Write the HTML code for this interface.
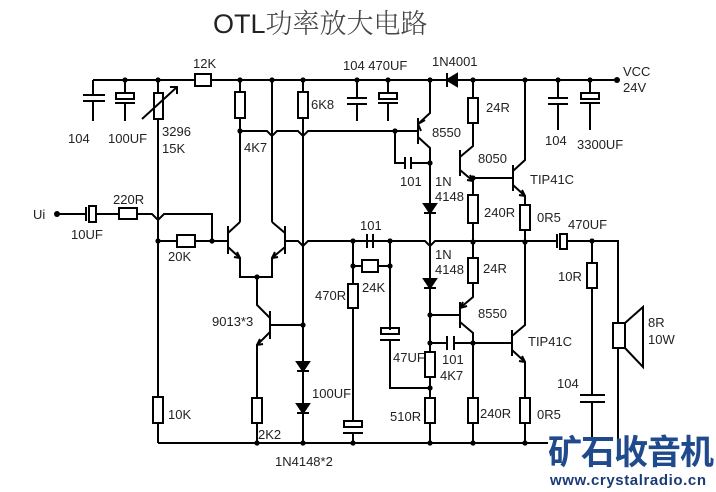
<!DOCTYPE html>
<html><head><meta charset="utf-8"><style>
html,body{margin:0;padding:0;background:#fff;}
svg{display:block;}
text{font-family:"Liberation Sans","Noto Sans CJK SC",sans-serif;fill:#222;}
.l{font-size:13px;}
</style></head><body>
<svg width="716" height="492" viewBox="0 0 716 492" xmlns="http://www.w3.org/2000/svg">
<rect width="716" height="492" fill="#fff"/>
<text x="213" y="33" font-size="27" style="font-family:'Liberation Sans','Noto Sans CJK SC',sans-serif">OTL<tspan style="font-family:'Noto Serif CJK SC','Noto Sans CJK SC',serif" font-weight="300" fill="#444">功率放大电路</tspan></text>
<g stroke="#000" stroke-width="2" fill="none">
<path d="M93 80H195M211 80H447M457 80H617"/>
<rect x="195" y="74" width="16" height="12" fill="#fff"/>
<path d="M447 73V87"/><path d="M447 80L457 74V86Z" fill="#000"/>
<path d="M93 80V95M83 95H105M83 101H105M93 101V121"/>
<path d="M125 80V93M125 103V121M115 103H135"/><rect x="116" y="93" width="18" height="6"/>
<path d="M158 80V443"/><rect x="154" y="93" width="9" height="26" fill="#fff"/>
<path d="M142 119L177 87M170 87H177V94"/>
<path d="M240 80V222"/><rect x="235" y="92" width="10" height="26" fill="#fff"/>
<path d="M303 80V443"/>
<rect x="298" y="92" width="10" height="26" fill="#fff"/>
<path d="M272 80V222"/>
<path d="M240 131H267L272 136L277 131H298L303 136L308 131H418"/>
<path d="M395 131V163H405M405 157V169M411 157V169M411 163H430"/>
<path d="M357 80V98M347 98H367M347 104H367M357 104V121"/>
<path d="M388 80V93M388 103V121M378 103H398"/><rect x="379" y="93" width="18" height="6"/>
<path d="M418 118V144M418 124L430 113V80M418 137L430 148V443"/>
<path d="M418 124L425 120M418 124L421 131"/>
<path d="M424 204H436L430 213Z" fill="#000"/><path d="M424 213H436"/>
<path d="M424 279H436L430 288Z" fill="#000"/><path d="M424 288H436"/>
<path d="M460 150V176M460 157L473 146V80M460 170L473 181V242"/>
<path d="M473 181L467 180M473 181L470 175"/>
<rect x="468" y="98" width="10" height="25" fill="#fff"/>
<rect x="468" y="195" width="10" height="28" fill="#fff"/>
<path d="M473 178H513"/>
<path d="M513 165V191M513 171L525 160V80M513 185L525 196V242"/>
<path d="M525 196L519 195M525 196L522 190"/>
<rect x="520" y="205" width="10" height="25" fill="#fff"/>
<path d="M558 80V98M548 98H568M548 104H568M558 104V130"/>
<path d="M590 80V93M590 103V130M580 103H600"/><rect x="581" y="93" width="18" height="6"/>
<path d="M57 214H86M86 207V221M97 214H119M137 214H152L158 220L164 214H212V241"/>
<rect x="89" y="206" width="7" height="16"/>
<rect x="119" y="208" width="18" height="11" fill="#fff"/>
<path d="M158 241H212H228"/><rect x="177" y="235" width="18" height="12" fill="#fff"/>
<path d="M228 226V254M228 233L240 222M228 247L240 258V277H272V258L285 247M285 226V254M285 233L272 222"/>
<path d="M240 258L234 257M240 258L237 252M272 258L278 257M272 258L275 252"/>
<path d="M285 241H298L303 246L308 241H425L430 246L435 241H557M567 241H618V323"/>
<path d="M557 234V248"/><rect x="560" y="234" width="7" height="15"/>
<path d="M257 277V305L270 318M270 311V339M270 332L257 345V443M270 325H303"/>
<path d="M257 345L263 344M257 345L260 339"/>
<rect x="252" y="398" width="10" height="25" fill="#fff"/>
<rect x="153" y="397" width="10" height="26" fill="#fff"/>
<path d="M297 362H309L303 371Z" fill="#000"/><path d="M297 371H309"/>
<path d="M297 404H309L303 413Z" fill="#000"/><path d="M297 413H309"/>
<path d="M367 234V248M373 234V248"/>
<path d="M353 241V423M353 433V443M343 433H363"/><rect x="344" y="421" width="18" height="6" fill="#fff"/>
<rect x="348" y="284" width="10" height="24" fill="#fff"/>
<path d="M353 266H390M390 241V330M390 340V388H430"/><rect x="362" y="260" width="16" height="12" fill="#fff"/>
<path d="M380 340H400"/><rect x="381" y="328" width="18" height="6"/>
<rect x="425" y="352" width="10" height="25" fill="#fff"/>
<rect x="425" y="398" width="10" height="25" fill="#fff"/>
<path d="M473 242V297L460 308M460 302V328M460 322L473 333V443M430 315H460"/>
<path d="M460 308L467 306M460 308L463 302"/>
<rect x="468" y="258" width="10" height="25" fill="#fff"/>
<rect x="468" y="398" width="10" height="25" fill="#fff"/>
<path d="M430 343H447M447 336V350M454 336V350M454 343H512"/>
<path d="M525 242V325L512 336M512 330V356M512 350L525 362V443"/>
<path d="M525 362L519 361M525 362L522 356"/>
<rect x="520" y="398" width="10" height="25" fill="#fff"/>
<path d="M158 443H548"/>
<path d="M592 241V395M580 395H605M580 402H605M592 402V440"/>
<rect x="587" y="263" width="10" height="25" fill="#fff"/>
<path d="M618 348V440"/><rect x="613" y="323" width="12" height="25" fill="#fff"/>
<path d="M625 323L643 307V367L625 348"/>
</g>
<g fill="#000">
<circle cx="125" cy="80" r="2.6"/><circle cx="158" cy="80" r="2.6"/><circle cx="240" cy="80" r="2.6"/><circle cx="272" cy="80" r="2.6"/><circle cx="303" cy="80" r="2.6"/><circle cx="357" cy="80" r="2.6"/><circle cx="388" cy="80" r="2.6"/><circle cx="430" cy="80" r="2.6"/><circle cx="473" cy="80" r="2.6"/><circle cx="525" cy="80" r="2.6"/><circle cx="558" cy="80" r="2.6"/><circle cx="590" cy="80" r="2.6"/><circle cx="617" cy="80" r="3"/>
<circle cx="240" cy="131" r="2.6"/><circle cx="395" cy="131" r="2.6"/><circle cx="430" cy="163" r="2.6"/><circle cx="473" cy="178" r="2.6"/>
<circle cx="57" cy="214" r="3"/><circle cx="158" cy="241" r="2.6"/><circle cx="212" cy="241" r="2.6"/>
<circle cx="353" cy="241" r="2.6"/><circle cx="390" cy="241" r="2.6"/><circle cx="473" cy="242" r="2.6"/><circle cx="525" cy="242" r="2.6"/><circle cx="592" cy="241" r="2.6"/>
<circle cx="353" cy="266" r="2.6"/><circle cx="390" cy="266" r="2.6"/><circle cx="257" cy="277" r="2.6"/>
<circle cx="303" cy="325" r="2.6"/><circle cx="430" cy="315" r="2.6"/><circle cx="430" cy="343" r="2.6"/><circle cx="473" cy="343" r="2.6"/><circle cx="430" cy="388" r="2.6"/>
<circle cx="257" cy="443" r="2.6"/><circle cx="303" cy="443" r="2.6"/><circle cx="353" cy="443" r="2.6"/><circle cx="430" cy="443" r="2.6"/><circle cx="473" cy="443" r="2.6"/><circle cx="525" cy="443" r="2.6"/>
</g>
<g class="l">
<text x="193" y="68">12K</text>
<text x="343" y="70">104 470UF</text>
<text x="432" y="66">1N4001</text>
<text x="623" y="76">VCC</text><text x="623" y="92">24V</text>
<text x="68" y="143">104</text><text x="108" y="143">100UF</text>
<text x="162" y="136">3296</text><text x="162" y="153">15K</text>
<text x="244" y="152">4K7</text><text x="311" y="109">6K8</text>
<text x="486" y="112">24R</text><text x="432" y="137">8550</text>
<text x="545" y="145">104</text><text x="577" y="149">3300UF</text>
<text x="478" y="163">8050</text><text x="530" y="184">TIP41C</text>
<text x="400" y="186">101</text><text x="435" y="186">1N</text><text x="435" y="201">4148</text>
<text x="484" y="217">240R</text><text x="537" y="222">0R5</text><text x="568" y="229">470UF</text>
<text x="33" y="219">Ui</text><text x="113" y="204">220R</text><text x="71" y="239">10UF</text>
<text x="168" y="261">20K</text>
<text x="360" y="230">101</text>
<text x="435" y="259">1N</text><text x="435" y="274">4148</text><text x="483" y="273">24R</text>
<text x="362" y="292">24K</text><text x="315" y="300">470R</text>
<text x="558" y="281">10R</text>
<text x="212" y="326">9013*3</text><text x="478" y="318">8550</text><text x="528" y="346">TIP41C</text>
<text x="648" y="327">8R</text><text x="648" y="344">10W</text>
<text x="393" y="362">47UF</text><text x="442" y="364">101</text><text x="440" y="380">4K7</text>
<text x="557" y="388">104</text><text x="312" y="398">100UF</text>
<text x="168" y="419">10K</text><text x="390" y="421">510R</text><text x="480" y="418">240R</text><text x="537" y="419">0R5</text>
<text x="258" y="439">2K2</text><text x="275" y="466">1N4148*2</text>
</g>
<text x="548" y="464" font-size="34" font-weight="bold" style="font-family:'Noto Sans CJK SC',sans-serif;fill:#1f4a8c;letter-spacing:-1px">矿石收音机</text>
<text x="550" y="485" font-size="15" font-weight="bold" style="fill:#1a3a78" textLength="156">www.crystalradio.cn</text>
</svg>
</body></html>
